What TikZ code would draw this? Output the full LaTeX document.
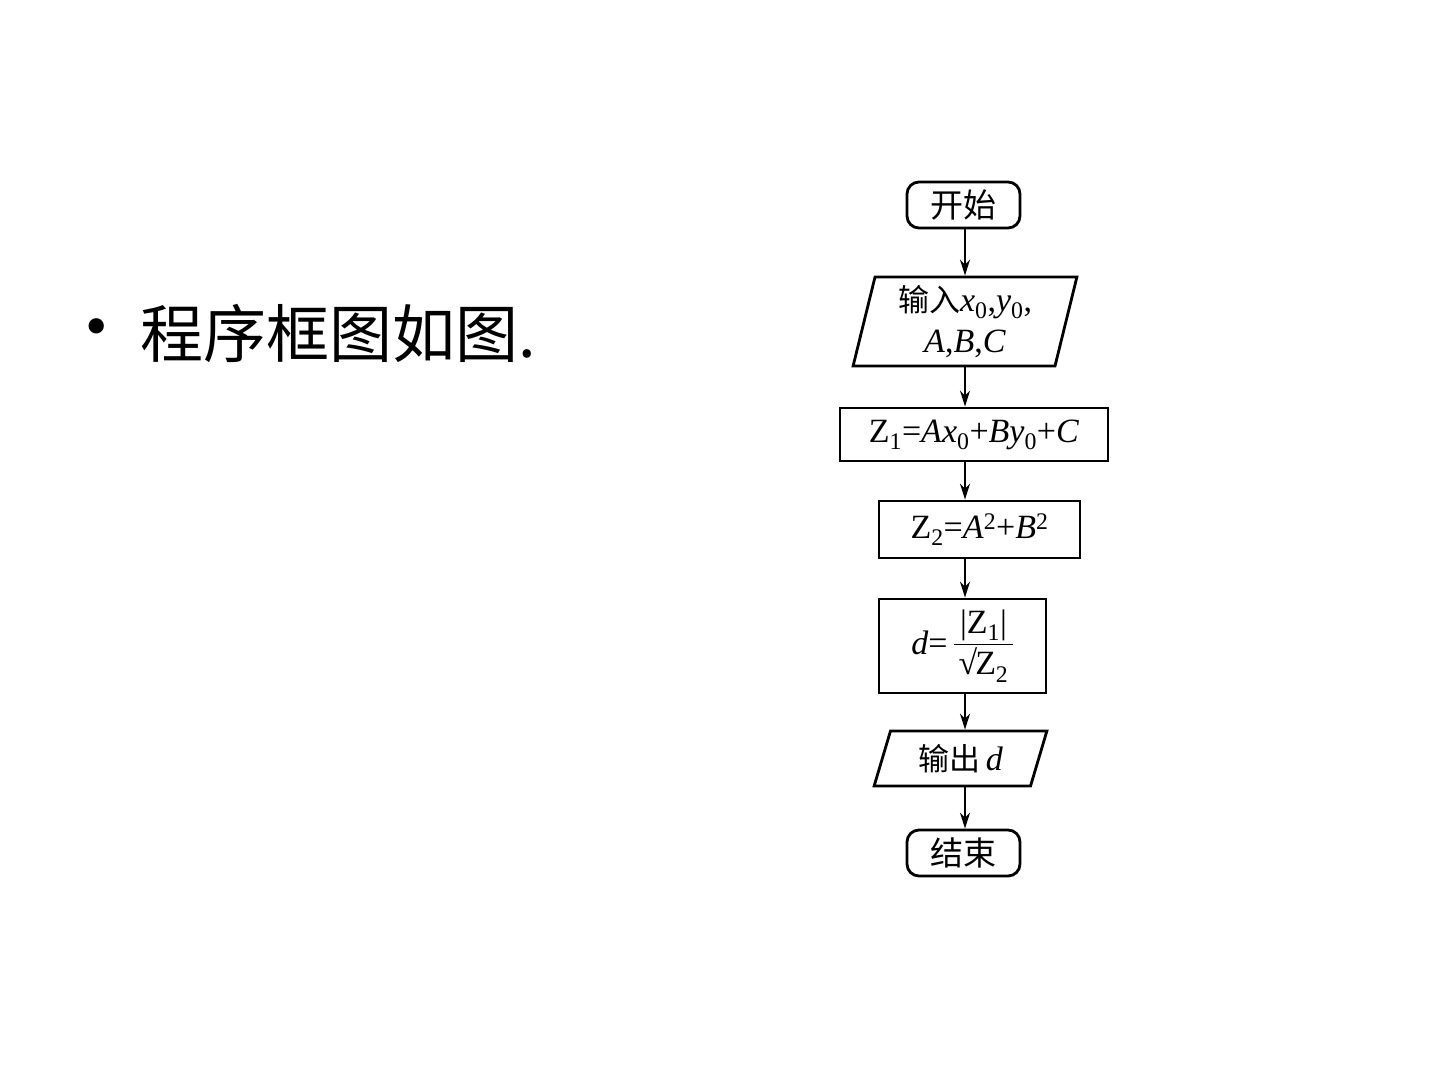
\documentclass[tikz,border=0pt]{standalone}
\usepackage{exscale}
\usepackage{fontspec}
\setmainfont{Liberation Serif}
\newfontfamily\cjk{Noto Sans CJK SC}
\usetikzlibrary{shapes.geometric,arrows.meta}
\tikzset{
  flow/.style={draw=black, line width=2.8pt, inner sep=0pt, fill=white},
  term/.style={flow, rectangle, rounded corners=12pt, minimum width=113pt, minimum height=46pt, font=\cjk\fontsize{33}{36}\selectfont},
  proc/.style={flow, rectangle, font=\fontsize{34}{38}\selectfont},
  io/.style={flow, trapezium, trapezium stretches=true, font=\fontsize{34}{38}\selectfont},
  arr/.style={line width=2.4pt, -{Stealth[length=16pt,width=10pt]}}
}
\begin{document}
\begin{tikzpicture}[x=1pt,y=-1pt]
\useasboundingbox (0,0) rectangle (1440,1080);
\fill[white] (0,0) rectangle (1440,1080);
% left title
\node[font=\fontsize{64}{70}\selectfont, inner sep=0pt] (bul) at (97,333) {•};
\node[anchor=west, font=\cjk\fontsize{63}{72}\selectfont, inner sep=0pt] (title) at (140,333) {程序框图如图.};
% flowchart
\coordinate (ax) at (965,0);
\node[term] (start) at (963.5,205) {开始};
\node[io, trapezium left angle=77.3, trapezium right angle=102.7, minimum width=224pt, minimum height=89pt, align=center] (in) at (965,321.5)
  {{\cjk\fontsize{31}{36}\selectfont 输入}\textit{x}\textsubscript{0},\textit{y}\textsubscript{0},\\[3pt] \textit{A},\textit{B},\textit{C}};
\node[proc, minimum width=268pt, minimum height=53pt] (z1) at (974,434.5)
  {Z\textsubscript{1}=\textit{Ax}\textsubscript{0}+\textit{By}\textsubscript{0}+\textit{C}};
\node[proc, minimum width=201pt, minimum height=57pt] (z2) at (979.5,529.5)
  {Z\textsubscript{2}=\textit{A}\textsuperscript{2}+\textit{B}\textsuperscript{2}};
\node[proc, minimum width=167pt, minimum height=94pt] (dd) at (962.5,646)
  {\raisebox{-4pt}{\textit{d}=}\,$\displaystyle\frac{\mbox{\,|Z\textsubscript{1}|\,}}{\mbox{√\kern-2pt Z\textsubscript{2}}}$};
\node[io, trapezium left angle=70.9, trapezium right angle=109.1, minimum width=173pt, minimum height=55pt] (out) at (960.5,758.5)
  {{\cjk\fontsize{31}{36}\selectfont 输出}\,\textit{d}};
\node[term] (end) at (963.5,853) {结束};
\draw[arr] (start.south -| ax) -- (in.north -| ax);
\draw[arr] (in.south -| ax) -- (z1.north -| ax);
\draw[arr] (z1.south -| ax) -- (z2.north -| ax);
\draw[arr] (z2.south -| ax) -- (dd.north -| ax);
\draw[arr] (dd.south -| ax) -- (out.north -| ax);
\draw[arr] (out.south -| ax) -- (end.north -| ax);
\end{tikzpicture}
\end{document}
